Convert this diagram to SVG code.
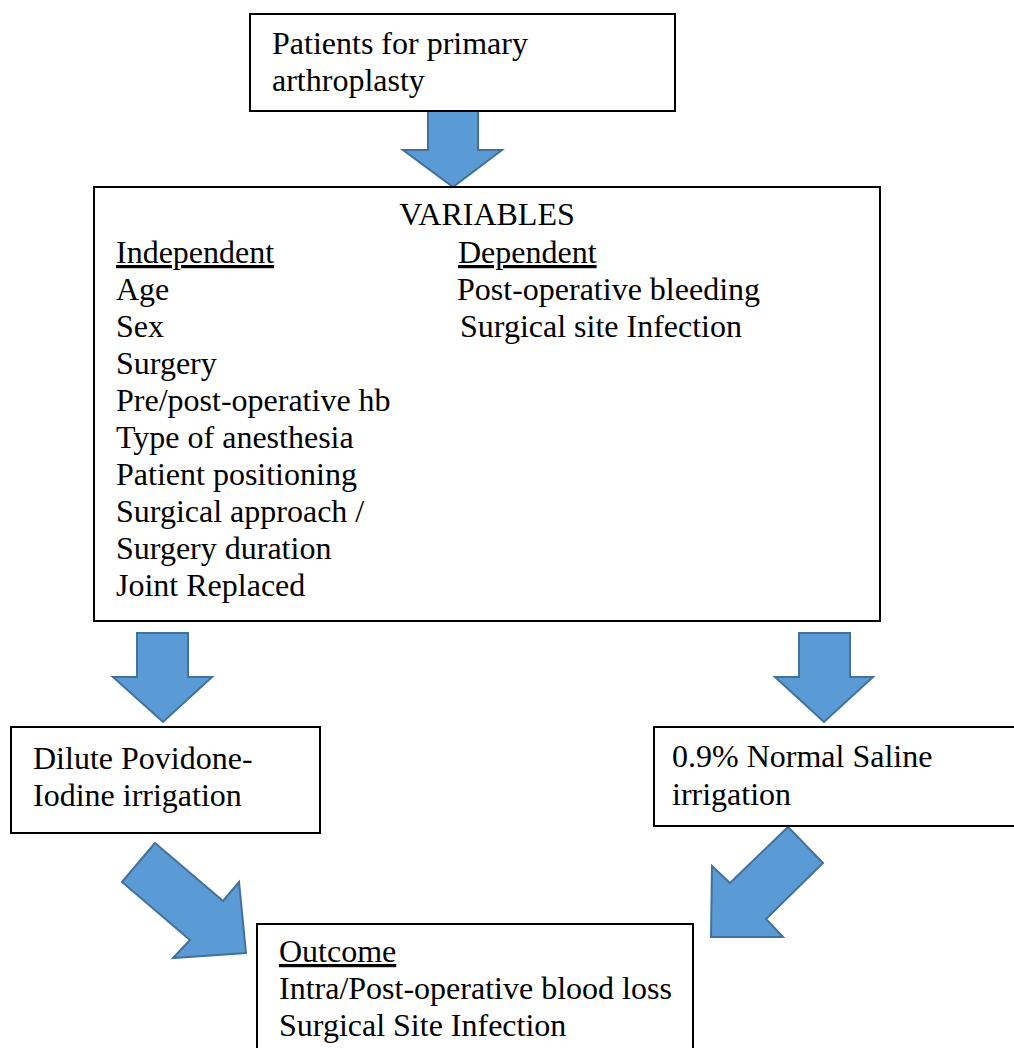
<svg xmlns="http://www.w3.org/2000/svg" width="1014" height="1048" viewBox="0 0 1014 1048">
<style>
.box{fill:#fff;stroke:#000;stroke-width:2}
.arr{fill:#5B9BD5;stroke:#41719C;stroke-width:2;stroke-linejoin:miter}
text{font-family:"Liberation Serif","Times New Roman",serif;font-size:32px;fill:#000}
.u{text-decoration:underline}
</style>
<rect width="1014" height="1048" fill="#fff"/>
<g id="connectors">
<polygon class="arr" points="428,111 478,111 478,150 502,150 453,187 403,150 428,150"/>
<polygon class="arr" points="137,633 188,633 188,677 212,677 163,722 113,677 137,677"/>
<polygon class="arr" points="799,633 850,633 850,677 873,677 824,722 775,677 799,677"/>
<polygon class="arr" points="155,843 223,901 239,882 246,953 173,958 190,940 122,882"/>
<polygon class="arr" points="788,827 823,863 766,919 783,937 711,937 712,866 730,883"/>
</g>
<g id="patients">
<rect class="box" x="250" y="14" width="425" height="97"/>
<text x="272" y="54">Patients for primary</text>
<text x="272" y="91">arthroplasty</text>
</g>
<g id="variables">
<rect class="box" x="94" y="187" width="786" height="434"/>
<text x="487" y="225" text-anchor="middle">VARIABLES</text>
<text x="116" y="263" class="u">Independent</text>
<text x="116" y="300">Age</text>
<text x="116" y="337">Sex</text>
<text x="116" y="374">Surgery</text>
<text x="116" y="411">Pre/post-operative hb</text>
<text x="116" y="448">Type of anesthesia</text>
<text x="116" y="485">Patient positioning</text>
<text x="116" y="522">Surgical approach /</text>
<text x="116" y="559">Surgery duration</text>
<text x="116" y="596">Joint Replaced</text>
<text x="458" y="263" class="u">Dependent</text>
<text x="457" y="300">Post-operative bleeding</text>
<text x="460" y="337">Surgical site Infection</text>
</g>
<g id="povidone">
<rect class="box" x="11" y="727" width="309" height="106"/>
<text x="33" y="769">Dilute Povidone-</text>
<text x="33" y="806">Iodine irrigation</text>
</g>
<g id="saline">
<rect class="box" x="654" y="727" width="370" height="99"/>
<text x="672" y="767">0.9% Normal Saline</text>
<text x="672" y="805">irrigation</text>
</g>
<g id="outcome">
<rect class="box" x="257" y="924" width="436" height="140"/>
<text x="279" y="962" class="u">Outcome</text>
<text x="279" y="999">Intra/Post-operative blood loss</text>
<text x="279" y="1036">Surgical Site Infection</text>
</g>
</svg>
